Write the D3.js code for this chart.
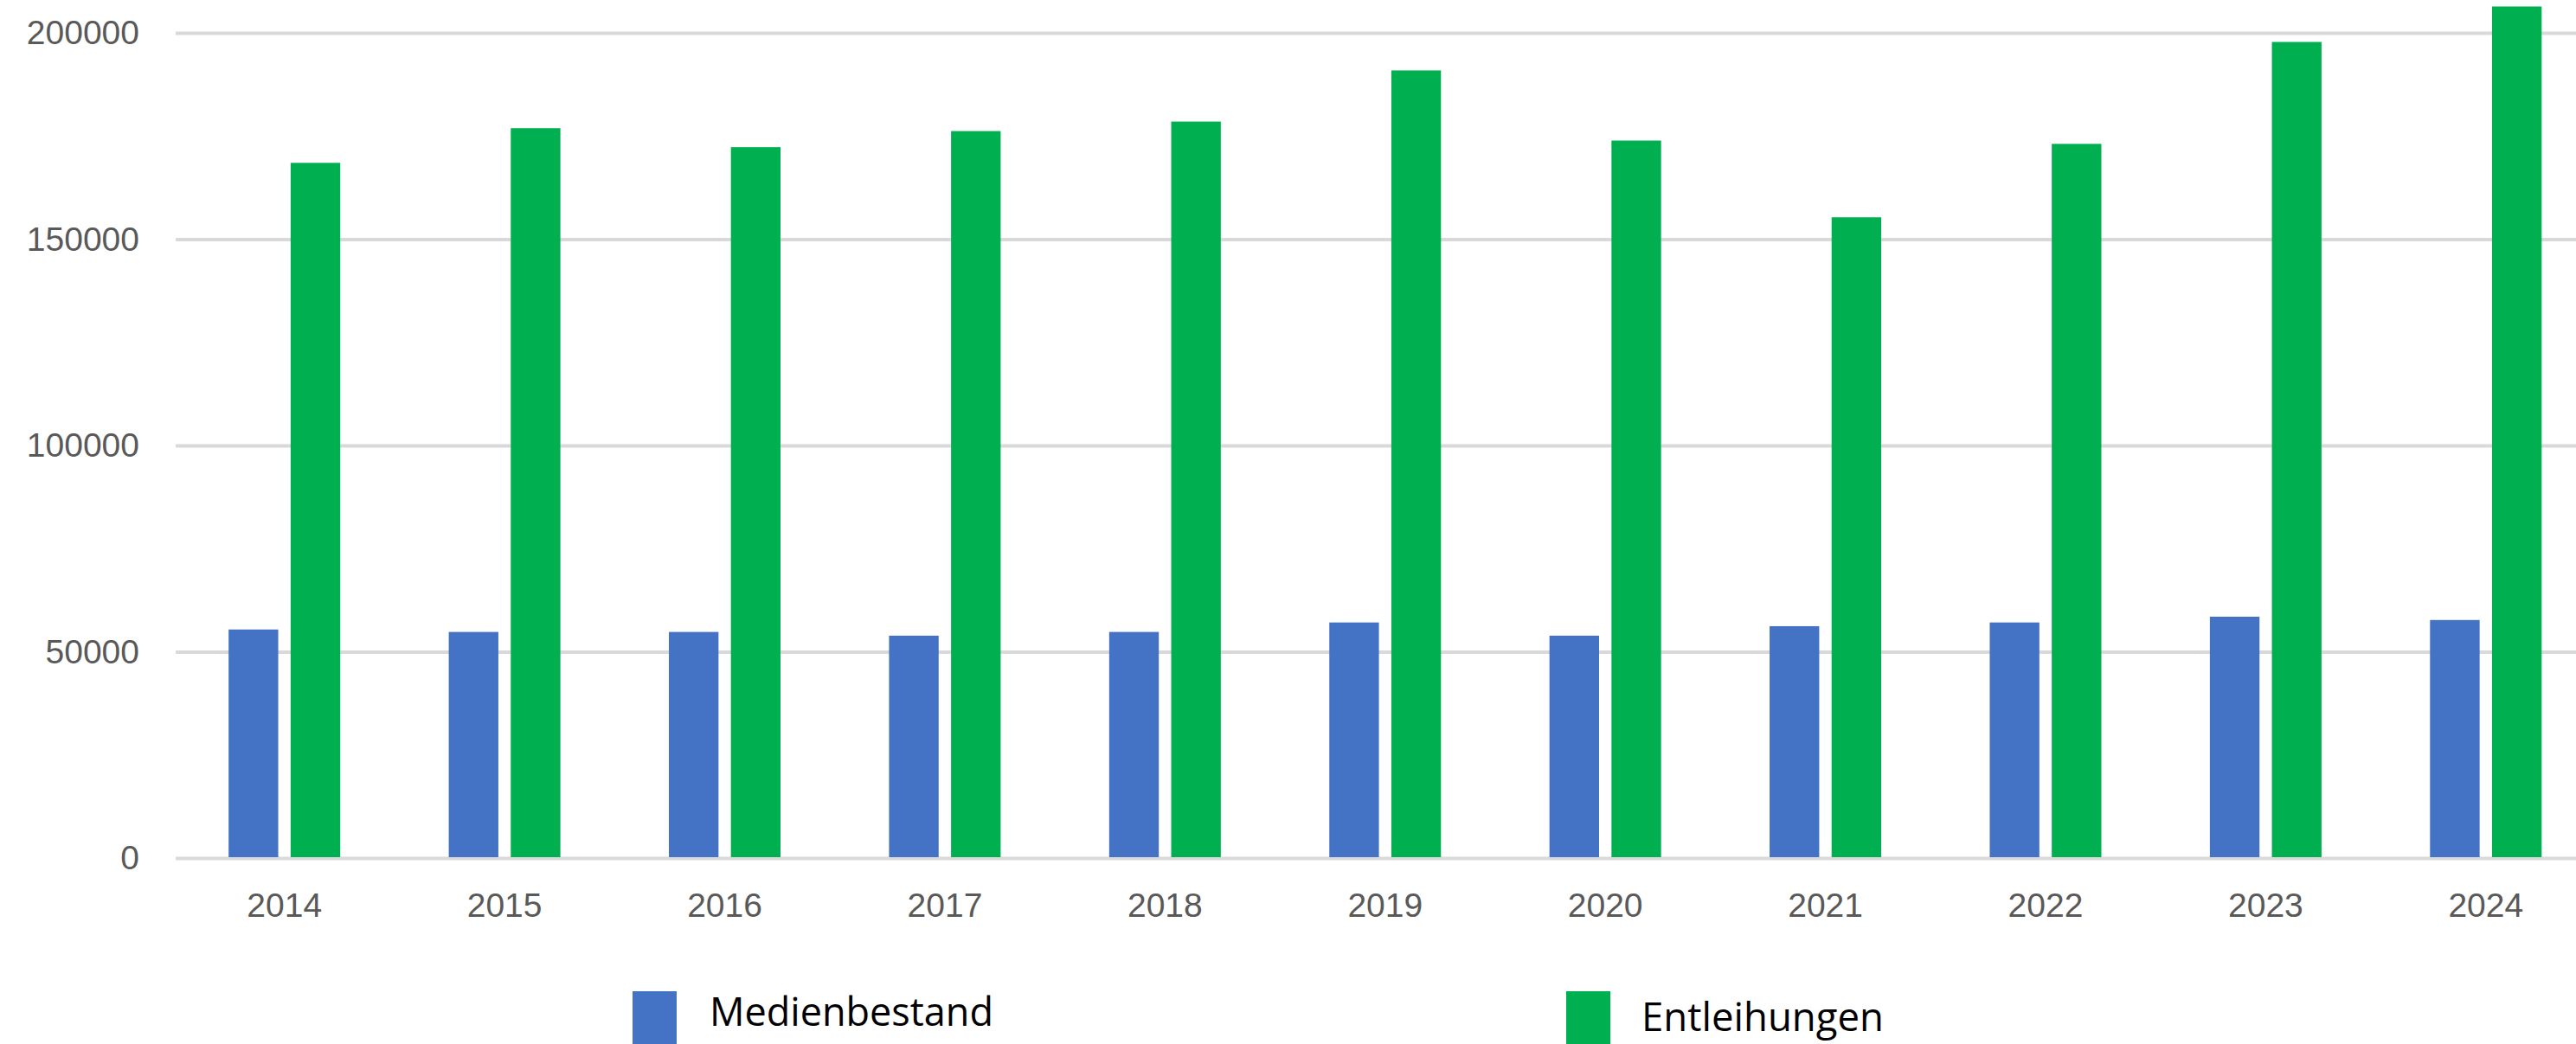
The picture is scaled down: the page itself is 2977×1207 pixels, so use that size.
<!DOCTYPE html>
<html>
<head>
<meta charset="utf-8">
<script src="https://cdn.jsdelivr.net/npm/d3@7"></script>
<style>
  html, body { margin: 0; padding: 0; background: #ffffff; overflow: hidden; }
  svg { display: block; }
</style>
</head>
<body>
<script>
const years = ["2014","2015","2016","2017","2018","2019","2020","2021","2022","2023","2024"];
const seriesNames = ["Medienbestand", "Entleihungen"];
const medienbestand = [55500, 54900, 54900, 54000, 54900, 57200, 54000, 56300, 57200, 58600, 57800];
const entleihungen = [168600, 177000, 172400, 176300, 178600, 191000, 174000, 155400, 173200, 197900, 206500];
const yTicks = [0, 50000, 100000, 150000, 200000];
const colors = ["#4472C4", "#00B050"];

const W = 2977, H = 1207;
const svg = d3.select("body").append("svg").attr("width", W).attr("height", H);

const y = d3.scaleLinear().domain([0, 200000]).range([992.5, 38.5]);
const x0 = d3.scaleBand().domain(years).range([201.5, 3000]).padding(0);
const x1 = d3.scaleBand().domain(seriesNames).range([-64.5, 64.5]).paddingInner(0.2);

// gridlines
svg.append("g").selectAll("line").data(yTicks).join("line")
  .attr("x1", 203).attr("x2", W)
  .attr("y1", d => y(d)).attr("y2", d => y(d))
  .attr("stroke", "#D9D9D9").attr("stroke-width", 4);

// y axis labels
const yAxis = d3.axisLeft(y).tickValues(yTicks).tickSize(0).tickPadding(0).tickFormat(d3.format("d"));
const gy = svg.append("g").attr("transform", "translate(161,0)").call(yAxis);
gy.select(".domain").remove();
gy.selectAll("text")
  .attr("font-family", "Liberation Sans, Arial, sans-serif")
  .attr("font-size", 39).attr("fill", "#595959");

// x axis labels
const xAxis = d3.axisBottom(x0).tickSize(0).tickPadding(0);
const gx = svg.append("g").attr("transform", "translate(0,1032)").call(xAxis);
gx.select(".domain").remove();
gx.selectAll("text")
  .attr("font-family", "Liberation Sans, Arial, sans-serif")
  .attr("font-size", 39).attr("fill", "#595959");

// bars
const data = years.map((yr, i) => ({ year: yr, values: [medienbestand[i], entleihungen[i]] }));
const groups = svg.append("g").selectAll("g").data(data).join("g")
  .attr("transform", d => `translate(${x0(d.year) + x0.bandwidth() / 2},0)`);
groups.selectAll("rect").data(d => d.values.map((v, k) => ({ key: seriesNames[k], v, k })))
  .join("rect")
  .attr("x", d => x1(d.key))
  .attr("width", x1.bandwidth())
  .attr("y", d => y(d.v))
  .attr("height", d => y(0) - y(d.v) - 1.5)
  .attr("fill", d => colors[d.k]);

// legend
const legendX = [731, 1810];
const legendTextX = [820, 1897];
const legendTextW = [328, 280];
const leg = svg.append("g").selectAll("g").data(seriesNames).join("g");
leg.append("rect")
  .attr("x", (d, i) => legendX[i]).attr("y", 1146)
  .attr("width", 51).attr("height", 80)
  .attr("fill", (d, i) => colors[i]);
leg.append("text")
  .attr("x", (d, i) => legendTextX[i])
  .attr("y", (d, i) => i === 0 ? 1186 : 1192)
  .attr("font-family", "Open Sans, Noto Sans, sans-serif")
  .attr("font-size", 46)
  .attr("fill", "#000")
  .attr("textLength", (d, i) => legendTextW[i])
  .attr("lengthAdjust", "spacingAndGlyphs")
  .text(d => d);
</script>
</body>
</html>
